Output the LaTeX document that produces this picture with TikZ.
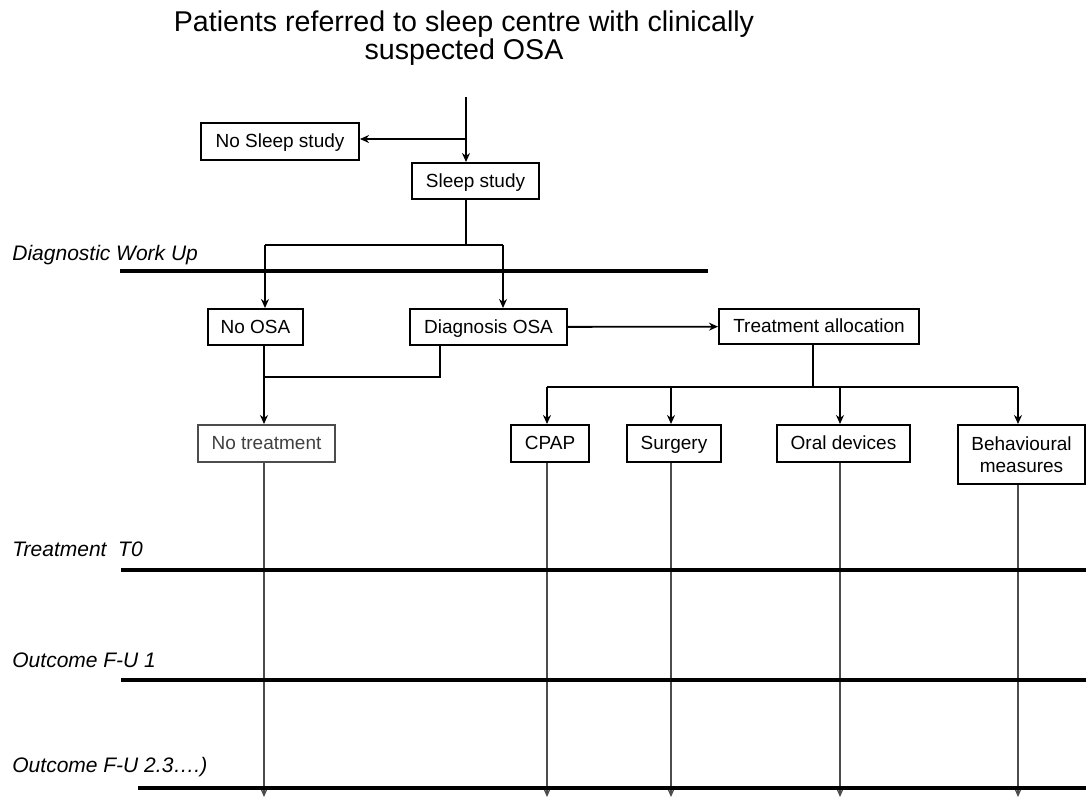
\documentclass[tikz,border=0pt]{standalone}
\usepackage{fontspec}
\setmainfont{Liberation Sans}
\usetikzlibrary{arrows.meta}
\tikzset{
  box/.style={draw, line width=1pt, inner sep=0pt, align=center,
    font=\fontsize{9.5}{11}\selectfont},
  onebox/.style={box, text height=7.5pt, text depth=1.5pt},
  phase/.style={anchor=west, inner sep=0pt, font=\fontsize{10.5}{12}\selectfont\itshape},
  link/.style={line width=0.9pt, -{Stealth[length=4.5pt,width=4pt]}},
  track/.style={line width=0.8pt, black!70, -{Stealth[length=4pt,width=3.5pt]}},
  rule/.style={line width=1.7pt},
}

\begin{document}
\begin{tikzpicture}[x=0.5pt,y=-0.5pt]
  \useasboundingbox (0,0) rectangle (1086,798);
  % title and diagnostic part
  \node[align=center, font=\fontsize{14.3}{14}\selectfont] (title) at (464,38)
    {Patients referred to sleep centre with clinically\\suspected OSA};
  \node[onebox, minimum width=79pt, minimum height=18.5pt] (nosleep) at (280,141.5) {No Sleep study};
  \node[onebox, minimum width=63.5pt, minimum height=18pt] (sleep) at (475.5,181) {Sleep study};
  \node[onebox, minimum width=47.5pt, minimum height=18pt] (noosa) at (255.5,327) {No OSA};
  \node[onebox, minimum width=78.5pt, minimum height=18pt] (diag) at (488.5,327) {Diagnosis OSA};
  \node[onebox, minimum width=100pt, minimum height=17.5pt] (alloc) at (819,326.5) {Treatment allocation};
  \node[onebox, draw=black!70, text=black!75, minimum width=68.5pt, minimum height=18.5pt] (notreat) at (266.5,443.5) {No treatment};
  % treatments
  \node[onebox, minimum width=39pt, minimum height=18.5pt] (cpap) at (550,443.5) {CPAP};
  \node[onebox, minimum width=47pt, minimum height=18.5pt] (surgery) at (674,443.5) {Surgery};
  \node[onebox, minimum width=66.5pt, minimum height=18.5pt] (oral) at (843.5,443.5) {Oral devices};
  \node[box, minimum width=63.5pt, minimum height=29.5pt] (behav) at (1021.5,454.5) {Behavioural\\measures};

  \coordinate (start) at (466,97);
  \coordinate (split) at (466,139);
  \coordinate (fork) at (466,245);
  \coordinate (forkl) at (265,245);
  \coordinate (forkr) at (503,245);
  \coordinate (dj) at (440,377);
  \coordinate (merge) at (264,377);
  \coordinate (tfork) at (813,387);
  \coordinate (endline) at (0,797);

  \draw[link] (start) -- (start |- sleep.north);
  \draw[link] (split) -- (split -| nosleep.east);
  \draw[line width=0.9pt] (sleep.south -| fork) -- (fork);
  \draw[line width=0.9pt] (forkl) -- (forkr);
  \draw[link] (forkl) -- (forkl |- noosa.north);
  \draw[link] (forkr) -- (forkr |- diag.north);
  \draw[link] (diag) -- (alloc);
  \draw[line width=0.9pt] (dj |- diag.south) -- (dj) -- (merge);
  \draw[link] (merge |- noosa.south) -- (merge |- notreat.north);
  \draw[line width=0.9pt] (alloc.south -| tfork) -- (tfork);
  \draw[line width=0.9pt] (547,387) -- (1018,387);
  \foreach \n/\x in {cpap/547, surgery/671, oral/840, behav/1018}{
    \draw[link] (\x,387) -- (\n.north -| \x,387);
    \draw[track] (\n.south -| \x,387) -- (\x,797);
  }
  \draw[track] (notreat.south -| merge) -- (merge |- endline);

  % phases
  \node[phase] (work) at (12,255) {Diagnostic Work Up};
  \draw[rule] (120,271) -- (708,271);
  \node[phase] (t0) at (12,549) {Treatment~~T0};
  \draw[rule] (121,570) -- (1086,570);
  \node[phase] (fu1) at (12,660) {Outcome F-U 1};
  \draw[rule] (121,680) -- (1086,680);
  \node[phase] (fu2) at (12,767) {Outcome F-U 2.3….)};
  \draw[line width=2.3pt] (138,788) -- (1086,788);
\end{tikzpicture}
\end{document}
